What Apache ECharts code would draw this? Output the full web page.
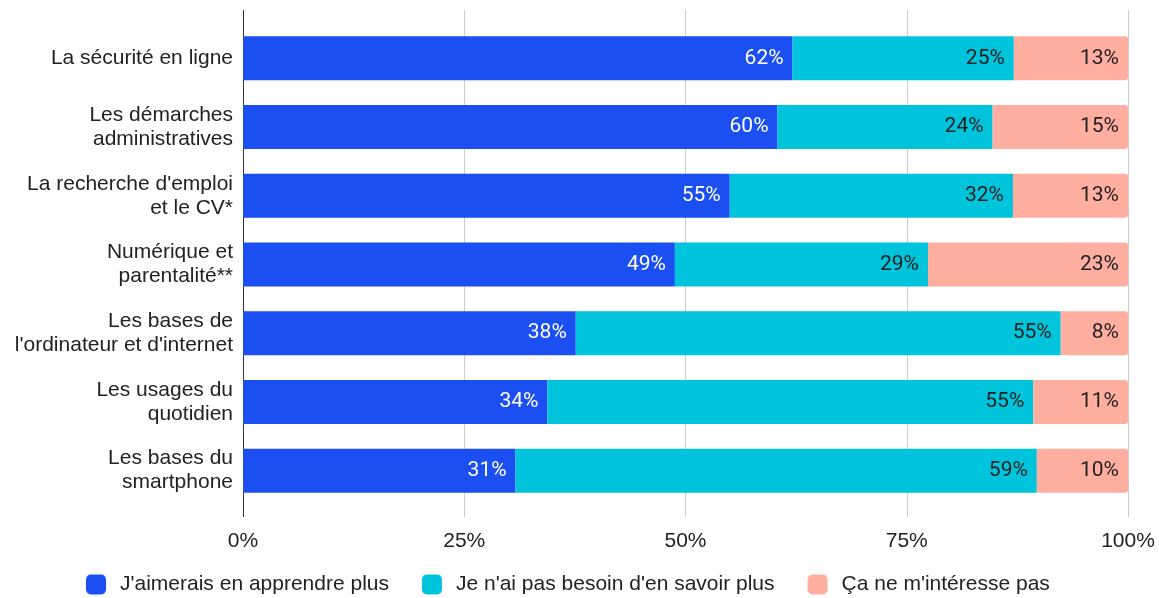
<!DOCTYPE html>
<html>
<head>
<meta charset="utf-8">
<script src="https://cdn.jsdelivr.net/npm/echarts@6/dist/echarts.min.js"></script>
<style>
  html, body { margin: 0; padding: 0; background: #fff; }
  #chart { width: 1159px; height: 598px; }
</style>
</head>
<body>
<div id="chart"></div>
<script>
const categories = [
  'La sécurité en ligne',
  'Les démarches\nadministratives',
  "La recherche d'emploi\net le CV*",
  'Numérique et\nparentalité**',
  "Les bases de\nl'ordinateur et d'internet",
  'Les usages du\nquotidien',
  'Les bases du\nsmartphone'
]
const seriesNames = [
  "J'aimerais en apprendre plus",
  "Je n'ai pas besoin d'en savoir plus",
  "Ça ne m'intéresse pas"
]
const learnMore = [62.1, 60.4, 55.0, 48.8, 37.6, 34.4, 30.8]
const noNeed = [25.0, 24.3, 32.0, 28.6, 54.8, 54.9, 58.9]
const notInterested = [12.9, 15.3, 13.0, 22.6, 7.6, 10.7, 10.3]
const xTicks = [0, 25, 50, 75, 100]

const colors = ['#1b4ff2', '#00c4dc', '#ffaea0']
const textFont = 'Liberation Sans, Arial, sans-serif'
const labelFont = 'Roboto, sans-serif'

const chart = echarts.init(document.getElementById('chart'), null, { renderer: 'canvas' })

function barLabel(color) {
  return {
    show: true,
    position: 'insideRight',
    distance: 9,
    color: color,
    fontFamily: labelFont,
    fontSize: 21,
    formatter: p => Math.round(p.value) + '%'
  }
}

// extra axes only used to stretch grid lines above / below the plot
function tickAxis(position, values, color, len) {
  return {
    type: 'value',
    position: position,
    min: 0,
    max: 100,
    axisLine: { show: false },
    splitLine: { show: false },
    axisLabel: { show: false },
    axisTick: {
      show: true,
      inside: false,
      length: len,
      customValues: values,
      lineStyle: { color: color, width: 1 }
    }
  }
}

chart.setOption({
  animation: false,
  color: colors,
  grid: {
    top: 24,
    bottom: 93,
    left: 243,
    right: 31,
    containLabel: false
  },
  legend: {
    bottom: -2,
    left: 81,
    itemWidth: 20,
    itemHeight: 20,
    itemGap: 33,
    icon: 'roundRect',
    textStyle: { fontFamily: textFont, fontSize: 21, color: '#222', padding: [0, 0, 0, 9] },
    data: seriesNames
  },
  xAxis: [
    {
      type: 'value',
      min: 0,
      max: 100,
      interval: 25,
      axisLine: { show: false },
      axisTick: { show: false },
      splitLine: { show: true, lineStyle: { color: '#cccccc', width: 1 } },
      axisLabel: {
        margin: 26,
        fontFamily: textFont,
        fontSize: 21,
        color: '#222',
        customValues: xTicks,
        formatter: v => v + '%'
      }
    },
    tickAxis('bottom', [25, 50, 75, 100], '#cccccc', 12),
    tickAxis('top', [25, 50, 75, 100], '#cccccc', 14),
    tickAxis('bottom', [0], '#333', 12),
    tickAxis('top', [0], '#333', 14)
  ],
  yAxis: {
    type: 'category',
    inverse: true,
    data: categories,
    axisLine: { show: true, lineStyle: { color: '#333', width: 1 } },
    axisTick: { show: false },
    axisLabel: {
      margin: 10,
      fontFamily: textFont,
      fontSize: 21,
      lineHeight: 24,
      color: '#222'
    }
  },
  series: [
    {
      name: seriesNames[0],
      type: 'bar',
      stack: 'total',
      barWidth: 44,
      data: learnMore,
      label: barLabel('#fff')
    },
    {
      name: seriesNames[1],
      type: 'bar',
      stack: 'total',
      data: noNeed,
      label: barLabel('#222')
    },
    {
      name: seriesNames[2],
      type: 'bar',
      stack: 'total',
      data: notInterested,
      itemStyle: { borderRadius: [0, 3, 3, 0] },
      label: barLabel('#222')
    }
  ]
})
</script>
</body>
</html>
